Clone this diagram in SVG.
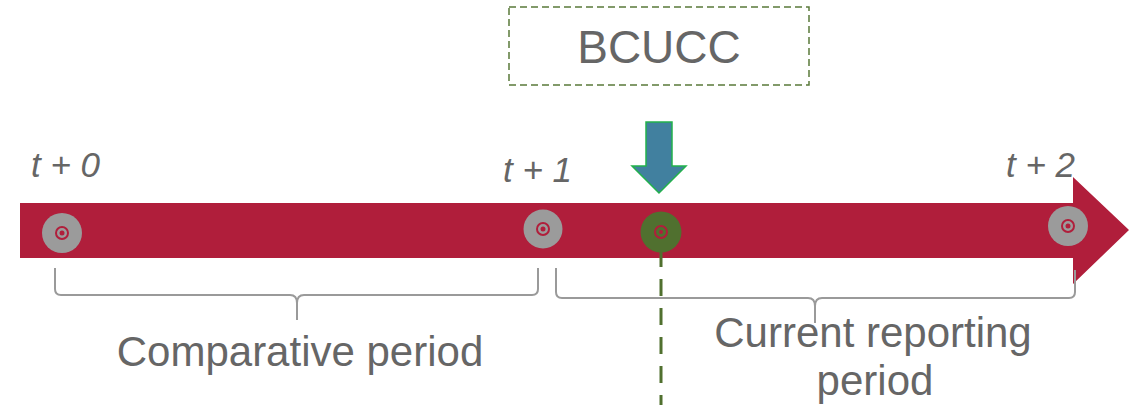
<svg xmlns="http://www.w3.org/2000/svg" width="1130" height="405" viewBox="0 0 1130 405">
<style>
.lbl{font-family:"Liberation Sans",Arial,sans-serif;fill:#666666}
.t{font-style:italic;font-size:35px}
.big{font-size:42px}
.brace{fill:none;stroke:#9A9A9A;stroke-width:2}
.node{fill:#9B9B9B}
.ring{fill:none;stroke:#B01E3B;stroke-width:2}
.dot{fill:#B01E3B}
</style>
<rect width="1130" height="405" fill="#ffffff"/>
<g id="timeline">
<polygon points="20,203 1073,203 1073,177 1129,230 1073,284 1073,258 20,258" fill="#B01E3B"/>
</g>
<g id="connectors">
<line x1="661" y1="250" x2="661" y2="405" stroke="#50702F" stroke-width="3" stroke-dasharray="17,12"/>
<path class="brace" d="M55,268 V289 Q55,295 61,295 H290 Q297,295 297,303 V320 V303 Q297,295 304,295 H532 Q538,295 538,289 V268"/>
<path class="brace" d="M556,268 V292 Q556,298 562,298 H808 Q815,298 815,306 V323 V306 Q815,298 822,298 H1069 Q1075,298 1075,292 V270"/>
</g>
<g id="t0">
<circle class="node" cx="62" cy="233" r="20"/>
<circle class="ring" cx="62" cy="233" r="6"/>
<circle class="dot" cx="62" cy="233" r="2.5"/>
<text class="lbl t" x="31" y="177">t + 0</text>
</g>
<g id="t1">
<circle class="node" cx="543" cy="229" r="19.5"/>
<circle class="ring" cx="543" cy="229" r="6"/>
<circle class="dot" cx="543" cy="229" r="2.5"/>
<text class="lbl t" x="503" y="182">t + 1</text>
</g>
<g id="t2">
<circle class="node" cx="1068" cy="226" r="20"/>
<circle class="ring" cx="1068" cy="226" r="6"/>
<circle class="dot" cx="1068" cy="226" r="2.5"/>
<text class="lbl t" x="1006" y="177">t + 2</text>
</g>
<g id="bcucc-point">
<circle cx="661" cy="232" r="20.5" fill="#50702F"/>
<circle class="ring" cx="661" cy="232" r="6"/>
<circle class="dot" cx="661" cy="232" r="2"/>
</g>
<g id="bcucc-arrow">
<polygon points="646,122 672,122 672,166 686,166 659,193 632,166 646,166" fill="#41809F" stroke="#22B14C" stroke-width="1.5"/>
</g>
<g id="bcucc">
<rect x="509" y="7" width="300" height="78" fill="none" stroke="#5A7A3A" stroke-width="1.5" stroke-dasharray="7,4"/>
<text class="lbl" x="659" y="63" font-size="46" text-anchor="middle">BCUCC</text>
</g>
<g id="comparative">
<text class="lbl big" x="300" y="366" text-anchor="middle">Comparative period</text>
</g>
<g id="current">
<text class="lbl big" x="873" y="347" text-anchor="middle">Current reporting</text>
<text class="lbl big" x="875" y="395" text-anchor="middle">period</text>
</g>
</svg>
